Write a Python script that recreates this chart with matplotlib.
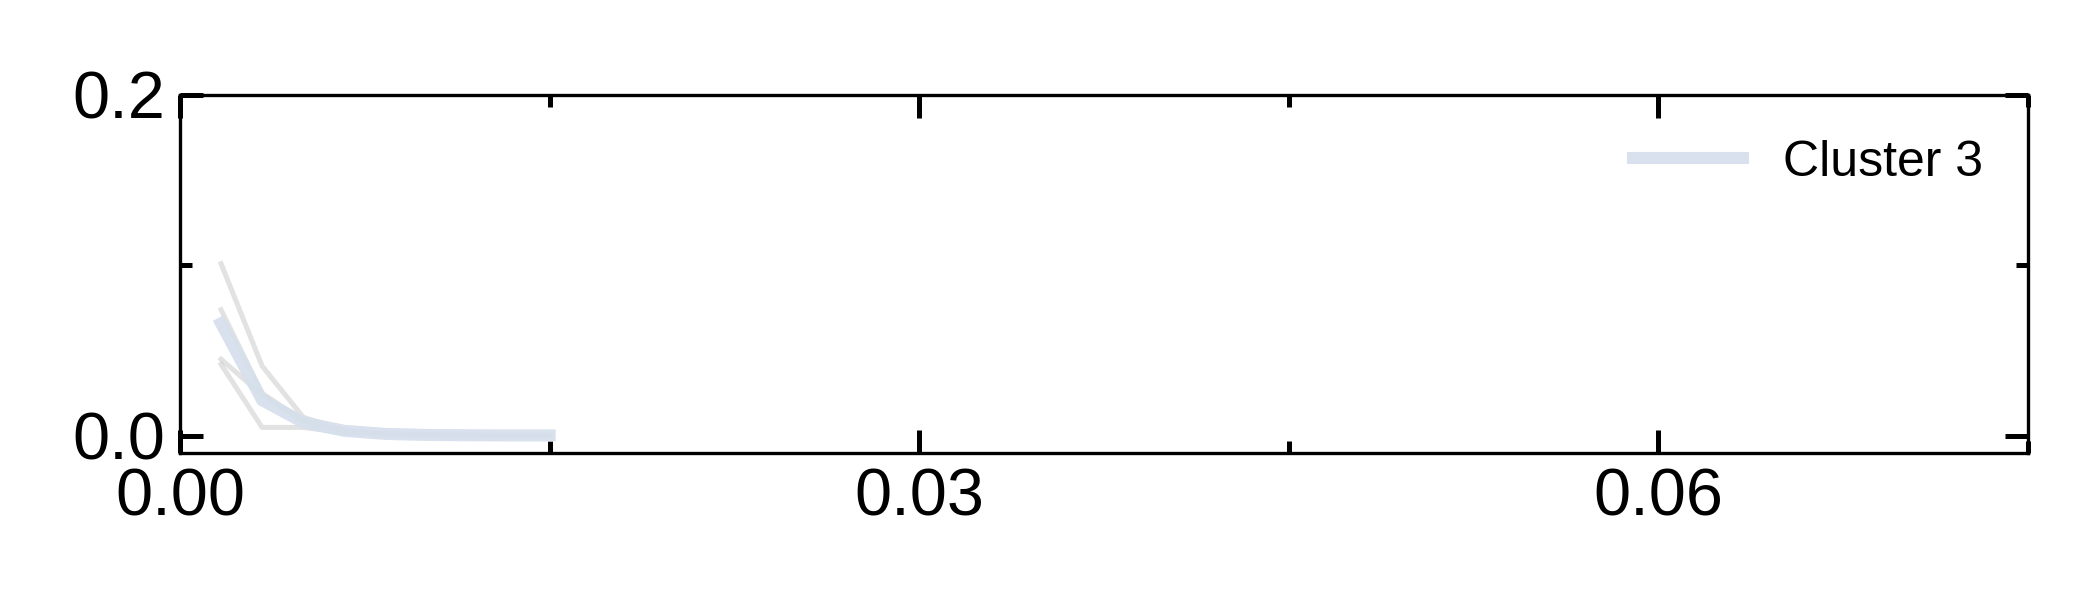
import matplotlib
matplotlib.use('Agg')
import matplotlib.pyplot as plt
from matplotlib.ticker import MultipleLocator

plt.rcParams['font.family'] = ['Liberation Sans', 'DejaVu Sans']

# x positions (same for every member)
x = [0.001667, 0.003333, 0.005, 0.006667, 0.008333, 0.01, 0.011667, 0.013333, 0.015]

# individual members (grey)
members = [
    [0.101, 0.041, 0.011, 0.003, 0.0012, 0.0006, 0.0004, 0.0003, 0.0003],
    [0.074, 0.025, 0.009, 0.003, 0.0012, 0.0006, 0.0004, 0.0003, 0.0003],
    [0.045, 0.024, 0.008, 0.003, 0.0012, 0.0006, 0.0004, 0.0003, 0.0003],
    [0.042, 0.005, 0.005, 0.002, 0.0010, 0.0006, 0.0004, 0.0003, 0.0003],
]

# cluster mean
cluster = [0.066, 0.021, 0.008, 0.003, 0.0012, 0.0006, 0.0004, 0.0003, 0.0003]
label = 'Cluster 3'

fig = plt.figure(figsize=(7, 2), dpi=300)
ax = fig.add_axes([0.0857, 0.245, 0.88, 0.597])

for m in members:
    ax.plot(x, m, color='#bfbfbf', lw=1.2, alpha=0.45, zorder=2)
ax.plot(x, cluster, color='#d6e0ec', lw=2.9, label=label, zorder=3, alpha=0.95)

ax.set_xlim(0, 0.075)
ax.set_ylim(-0.01, 0.2)
ax.xaxis.set_major_locator(MultipleLocator(0.03))
ax.xaxis.set_minor_locator(MultipleLocator(0.015))
ax.yaxis.set_major_locator(MultipleLocator(0.2))
ax.yaxis.set_minor_locator(MultipleLocator(0.1))
ax.xaxis.set_major_formatter(plt.FormatStrFormatter('%.2f'))
ax.yaxis.set_major_formatter(plt.FormatStrFormatter('%.1f'))

ax.tick_params(which='both', direction='in', top=True, right=True, labelsize=16, width=1.2)
ax.tick_params(which='major', length=5.5)
ax.tick_params(which='minor', length=2.9)
for s in ax.spines.values():
    s.set_linewidth(0.8)

ax.legend(loc='upper right', frameon=False, fontsize=12, handlelength=2.2)

fig.savefig('out.png', dpi=300)
